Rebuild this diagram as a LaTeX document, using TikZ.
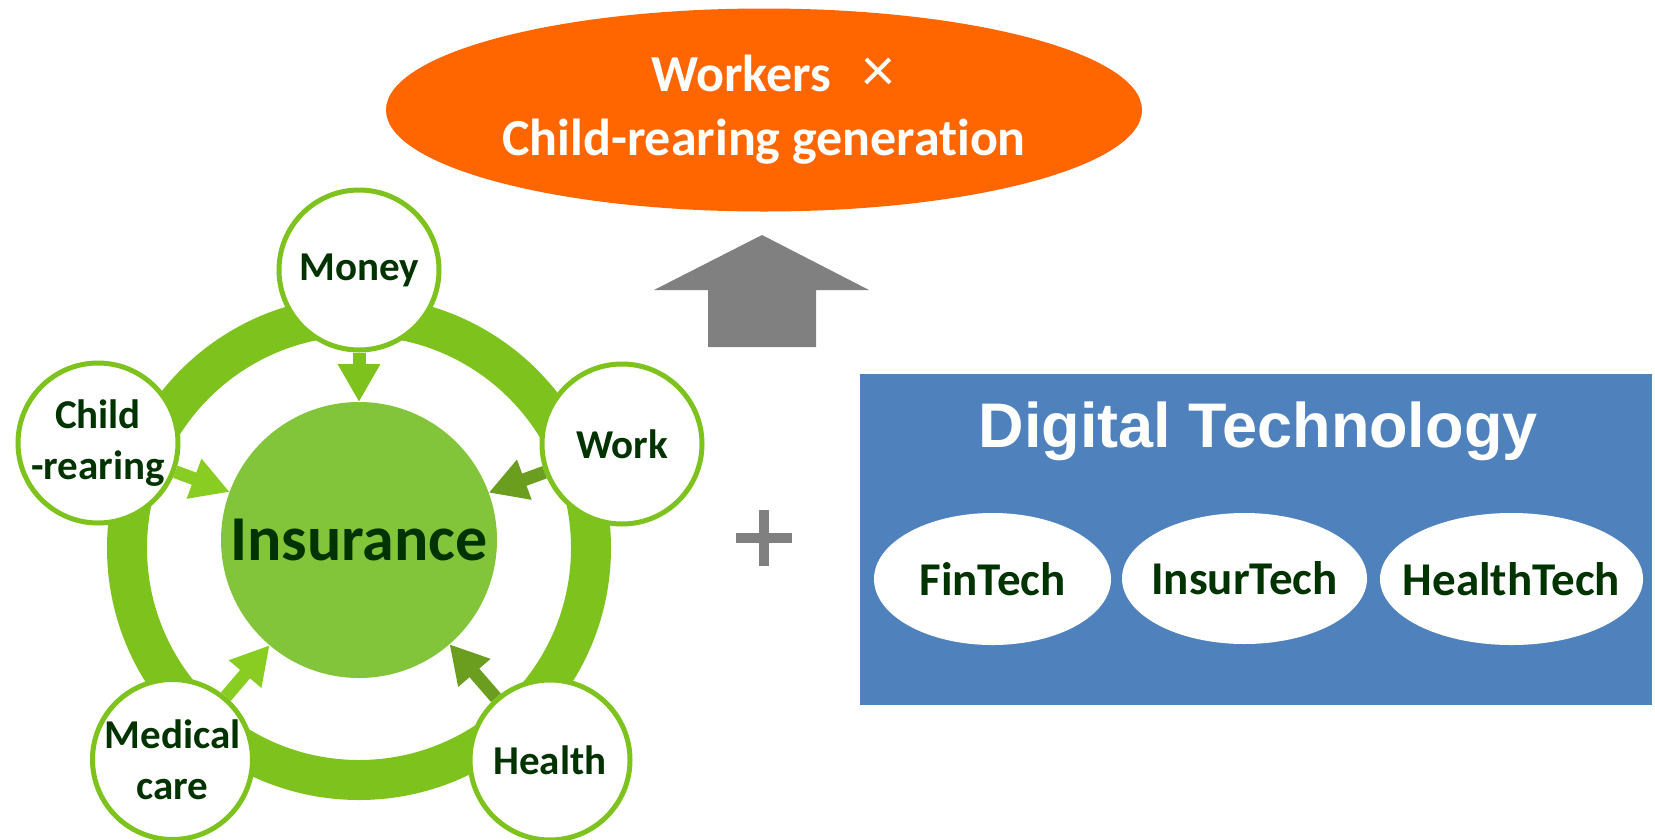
\documentclass[tikz,border=0pt]{standalone}
\usepackage{fontspec}
\newfontfamily\carlito[Ligatures={NoCommon}]{Carlito}
\newfontfamily\libsans{Liberation Sans}
\usetikzlibrary{shapes.geometric,arrows.meta}
\definecolor{ringgreen}{RGB}{126,194,30}
\definecolor{insgreen}{RGB}{131,197,58}
\definecolor{brightg}{RGB}{137,205,35}
\definecolor{darkg}{RGB}{107,158,31}
\definecolor{txtgreen}{RGB}{0,51,0}
\definecolor{orangec}{RGB}{255,102,0}
\definecolor{bluec}{RGB}{79,129,189}
\definecolor{grayc}{RGB}{128,128,128}
\tikzset{
  outc/.style={circle, draw=ringgreen, line width=5pt, fill=white, minimum size=160pt,
    inner sep=0pt, text=txtgreen, align=center,
    font=\carlito\bfseries\fontsize{41}{51}\selectfont},
  techell/.style={ellipse, fill=white, inner xsep=-80pt, inner ysep=0pt, text=txtgreen,
    font=\carlito\bfseries\fontsize{47}{56}\selectfont},
  inarrow/.style={line width=13pt, -{Triangle[length=38pt,width=40pt]}}
}
\begin{document}
\begin{tikzpicture}[x=1pt,y=-1pt]
\useasboundingbox (0,0) rectangle (1655,839);
% ring
\draw[ringgreen, line width=40pt] (359,548) circle[radius=232pt];
% centre
\node[circle, fill=insgreen, minimum size=276pt, inner sep=0pt, outer sep=0pt, text=txtgreen,
  font=\carlito\bfseries\fontsize{64}{70}\selectfont] (ins) at (359,540) {Insurance};
% outer circles
\node[outc] (money) at (359,270) {Money};
\node[outc] (child) at (98,443) {Child\\-rearing};
\node[outc] (work) at (622,444) {Work};
\node[outc] (medical) at (172.5,759.5) {Medical\\care};
\node[outc] (health) at (550,760) {Health};
% arrows into centre
\draw[inarrow, draw=ringgreen] (money) -- (ins);
\draw[inarrow, draw=brightg] (child) -- (ins);
\draw[inarrow, draw=darkg] (work) -- (ins);
\draw[inarrow, draw=brightg] (medical) -- (ins);
\draw[inarrow, draw=darkg] (health) -- (ins);
% orange ellipse
\node[ellipse, fill=orangec, minimum width=756pt, minimum height=203pt, inner sep=0pt,
  text=white, align=center, font=\carlito\bfseries\fontsize{52}{64}\selectfont]
  (gen) at (764,110) {\hspace*{18pt}Workers\hspace{32pt}{\mdseries\fontsize{64}{64}\selectfont ×}\\Child-rearing generation};
% gray up arrow
\fill[grayc] (708,347) -- (708,290) -- (654,290) -- (762,235) -- (869,290)
  -- (816,290) -- (816,347) -- cycle;
% plus
\fill[grayc] (759,510) rectangle (769,566);
\fill[grayc] (736,533) rectangle (792,543);
% digital technology box
\node[rectangle, fill=bluec, minimum width=792pt, minimum height=331pt, inner sep=0pt,
  anchor=north west] (dt) at (860,374) {};
\node[text=white, anchor=base, inner sep=0pt,
  font=\libsans\bfseries\fontsize{63}{70}\selectfont] (dtt) at (1258,447) {Digital Technology};
\node[techell, minimum width=237pt, minimum height=132pt] (fin) at (992.5,579) {FinTech};
\node[techell, minimum width=245pt, minimum height=131pt] (insur) at (1244.5,578.5) {InsurTech};
\node[techell, minimum width=263pt, minimum height=132pt] (healtht) at (1511.5,579) {HealthTech};
\end{tikzpicture}
\end{document}
